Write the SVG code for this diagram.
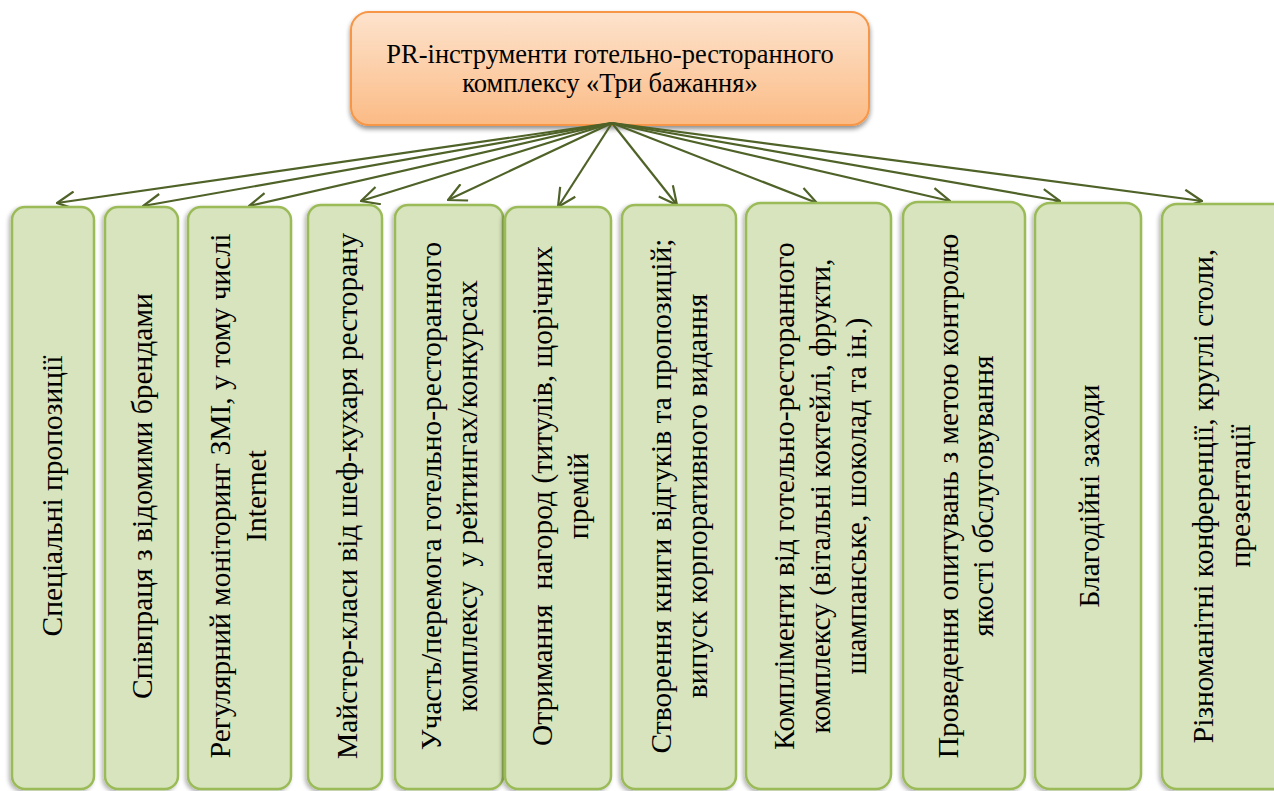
<svg xmlns="http://www.w3.org/2000/svg" width="1274" height="791" viewBox="0 0 1274 791">
<defs>
<linearGradient id="og" x1="0" y1="0" x2="0" y2="1">
<stop offset="0" stop-color="#fde3cd"/>
<stop offset="1" stop-color="#fbbb85"/>
</linearGradient>
<filter id="sh" x="-10%" y="-10%" width="120%" height="130%">
<feGaussianBlur in="SourceAlpha" stdDeviation="2.5"/>
<feOffset dx="0" dy="3"/>
<feComponentTransfer><feFuncA type="linear" slope="0.45"/></feComponentTransfer>
<feMerge><feMergeNode/><feMergeNode in="SourceGraphic"/></feMerge>
</filter>
<filter id="gs" x="-20%" y="-5%" width="140%" height="110%">
<feGaussianBlur in="SourceAlpha" stdDeviation="2.2"/>
<feOffset dx="-2" dy="2"/>
<feComponentTransfer><feFuncA type="linear" slope="0.3"/></feComponentTransfer>
<feMerge><feMergeNode/><feMergeNode in="SourceGraphic"/></feMerge>
</filter>
<marker id="arr" viewBox="0 0 20 20" refX="19" refY="10" markerWidth="20" markerHeight="20" markerUnits="userSpaceOnUse" orient="auto">
<path d="M1,1 L19,10 L1,19" fill="none" stroke="#4f6228" stroke-width="2.2"/>
</marker>
</defs>
<style>
.box{fill:#d7e4bd;stroke:#9bbb59;stroke-width:2.5;filter:url(#gs)}
.t{font-family:"Liberation Serif","Times New Roman",serif;font-size:29.5px;fill:#000;text-anchor:middle}
.tt{font-family:"Liberation Serif","Times New Roman",serif;font-size:26.5px;fill:#000;text-anchor:middle}
.c{stroke:#4f6228;stroke-width:2.2;fill:none;marker-end:url(#arr)}
</style>
<rect width="1274" height="791" fill="#fff"/>
<g id="root">
<rect x="351" y="12" width="518" height="113" rx="18" fill="url(#og)" stroke="#f79646" stroke-width="2" filter="url(#sh)"/>
<text class="tt" x="610" y="63">PR-інструменти готельно-ресторанного</text>
<text class="tt" x="610" y="92">комплексу «Три бажання»</text>
</g>
<g id="connectors">
<line class="c" x1="612" y1="123" x2="57" y2="203"/>
<line class="c" x1="612" y1="123" x2="143" y2="206"/>
<line class="c" x1="612" y1="123" x2="249" y2="206"/>
<line class="c" x1="612" y1="123" x2="361" y2="201"/>
<line class="c" x1="612" y1="123" x2="448" y2="200"/>
<line class="c" x1="612" y1="123" x2="558" y2="207"/>
<line class="c" x1="612" y1="123" x2="677" y2="205"/>
<line class="c" x1="612" y1="123" x2="817" y2="203"/>
<line class="c" x1="612" y1="123" x2="950" y2="201"/>
<line class="c" x1="612" y1="123" x2="1060" y2="201"/>
<line class="c" x1="612" y1="123" x2="1202" y2="201"/>
</g>
<g id="n1"><rect class="box" x="12" y="207" width="82" height="582" rx="13"/>
<text class="t" transform="translate(62,496) rotate(-90)">Спеціальні пропозиції</text></g>
<g id="n2"><rect class="box" x="105" y="207" width="73" height="582" rx="13"/>
<text class="t" transform="translate(152,496) rotate(-90)">Співпраця з відомими брендами</text></g>
<g id="n3"><rect class="box" x="188" y="207" width="103" height="582" rx="13"/>
<text class="t" transform="translate(230,496) rotate(-90)">Регулярний моніторинг ЗМІ, у тому числі</text>
<text class="t" transform="translate(266,496) rotate(-90)">Internet</text></g>
<g id="n4"><rect class="box" x="308" y="205" width="74" height="584" rx="13"/>
<text class="t" transform="translate(357,496) rotate(-90)">Майстер-класи від шеф-кухаря ресторану</text></g>
<g id="n5"><rect class="box" x="395" y="205" width="108" height="584" rx="13"/>
<text class="t" transform="translate(441,496) rotate(-90)">Участь/перемога готельно-ресторанного</text>
<text class="t" transform="translate(477,496) rotate(-90)" xml:space="preserve">комплексу  у рейтингах/конкурсах</text></g>
<g id="n6"><rect class="box" x="505" y="207" width="106" height="582" rx="13"/>
<text class="t" transform="translate(552,496) rotate(-90)" xml:space="preserve">Отримання  нагород (титулів, щорічних</text>
<text class="t" transform="translate(588,496) rotate(-90)">премій</text></g>
<g id="n7"><rect class="box" x="622" y="205" width="114" height="584" rx="13"/>
<text class="t" transform="translate(671,496) rotate(-90)">Створення книги відгуків та пропозицій;</text>
<text class="t" transform="translate(707,496) rotate(-90)">випуск корпоративного видання</text></g>
<g id="n8"><rect class="box" x="746" y="203" width="145" height="586" rx="15"/>
<text class="t" transform="translate(794,496) rotate(-90)">Компліменти від готельно-ресторанного</text>
<text class="t" transform="translate(830,496) rotate(-90)">комплексу (вітальні коктейлі, фрукти,</text>
<text class="t" transform="translate(866,496) rotate(-90)">шампанське, шоколад та ін.)</text></g>
<g id="n9"><rect class="box" x="903" y="202" width="122" height="587" rx="15"/>
<text class="t" transform="translate(958,496) rotate(-90)">Проведення опитувань з метою контролю</text>
<text class="t" transform="translate(993,496) rotate(-90)">якості обслуговування</text></g>
<g id="n10"><rect class="box" x="1035" y="203" width="106" height="586" rx="15"/>
<text class="t" transform="translate(1099,496) rotate(-90)">Благодійні заходи</text></g>
<g id="n11"><rect class="box" x="1162" y="204" width="130" height="585" rx="15"/>
<text class="t" transform="translate(1213,496) rotate(-90)">Різноманітні конференції, круглі столи,</text>
<text class="t" transform="translate(1250,496) rotate(-90)">презентації</text></g>
</svg>
